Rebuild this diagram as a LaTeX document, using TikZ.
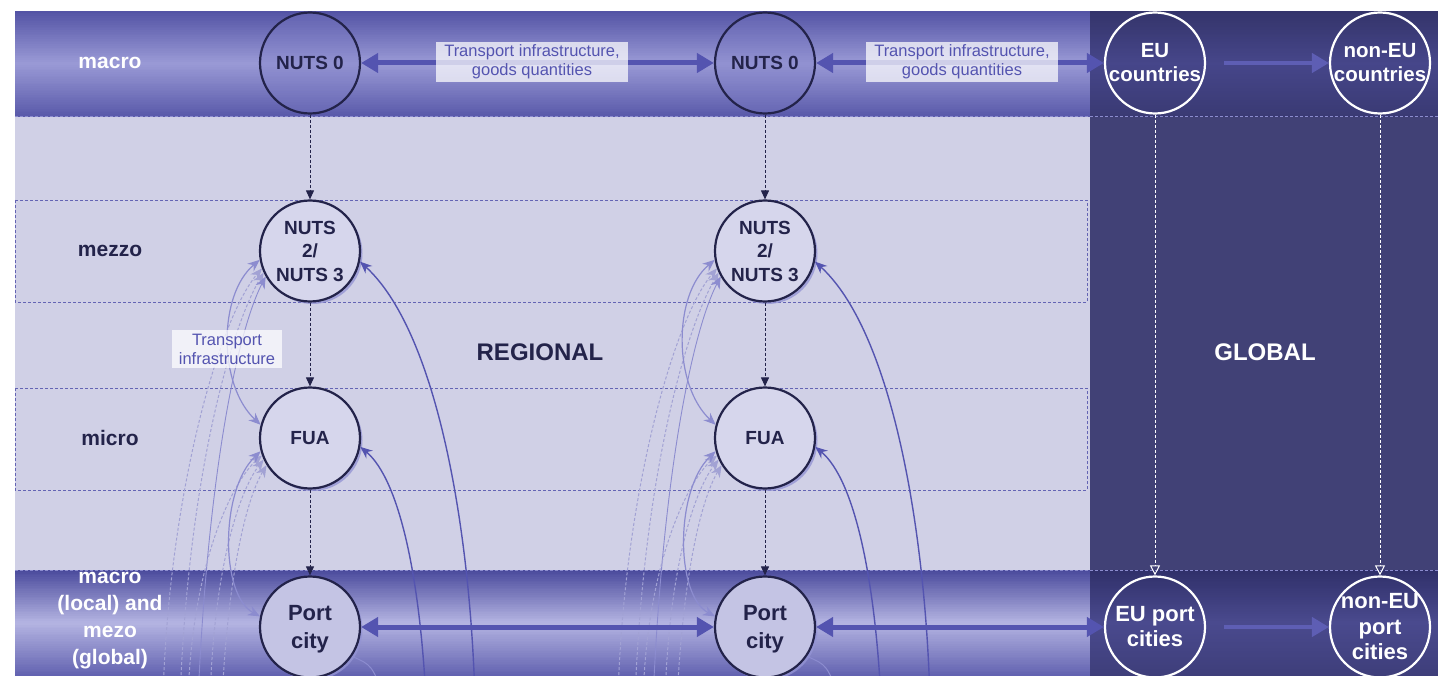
\documentclass[tikz,border=0pt]{standalone}
\usepackage{fontspec}
\setmainfont{Liberation Sans}
\usetikzlibrary{arrows.meta,shapes.geometric,shadows}
\definecolor{lav}{HTML}{D0D0E6}
\definecolor{navyG}{HTML}{414176}
\definecolor{arr}{HTML}{5454B0}
\definecolor{arrL}{HTML}{8C8CCF}
\definecolor{arrD}{HTML}{A2A2D4}
\definecolor{ink}{HTML}{23234A}
\definecolor{rowline}{HTML}{6464B4}
\definecolor{bandTop}{HTML}{5252A4}
\definecolor{bandMid}{HTML}{9A9AD6}
\definecolor{bandBot}{HTML}{5A5AAA}
\definecolor{bbTop}{HTML}{4A4A9C}
\definecolor{bbMid}{HTML}{B4B4E2}
\definecolor{bbBot}{HTML}{6262B0}
\definecolor{gTop}{HTML}{34346A}
\definecolor{gMid}{HTML}{46468A}
\definecolor{gBot}{HTML}{3A3A74}
\definecolor{gbTop}{HTML}{30306A}
\definecolor{gbMid}{HTML}{4A4A8E}
\definecolor{gbBot}{HTML}{3E3E7A}
\definecolor{topfill}{HTML}{8080C8}
\definecolor{midfill}{HTML}{D6D6EC}
\definecolor{portfill}{HTML}{C4C4E4}
\definecolor{fadearrow}{HTML}{5E5EB4}
\definecolor{shadowc}{HTML}{9494D4}
\newcommand{\ctext}[1]{\makebox[0pt]{\raisebox{-0.33em}[0pt][0pt]{\begin{tabular}[c]{@{}c@{}}#1\end{tabular}}}}
% vertical three-stop gradient drawn as thin stripes: x1,y1,x2,y2,top,mid,bottom
\newcommand{\vgrad}[7]{%
  \foreach \i in {0,...,59}{%
    \pgfmathsetmacro\ya{#2+(#4-#2)*\i/60}%
    \pgfmathsetmacro\yb{#2+(#4-#2)*(\i+1)/60+0.6}%
    \ifnum\i<30
      \pgfmathsetmacro\pp{100*(\i+0.5)/30}%
      \fill[#6!\pp!#5] (#1,\ya) rectangle (#3,\yb);
    \else
      \pgfmathsetmacro\pp{100*(59.5-\i)/30}%
      \fill[#6!\pp!#7] (#1,\ya) rectangle (#3,\yb);
    \fi
  }}
\begin{document}
\begin{tikzpicture}[x=1pt,y=-1pt,
  lvl/.style={ellipse, minimum width=100pt, minimum height=101pt, inner sep=0pt, line width=2.2pt, text=ink,
              font=\bfseries\fontsize{19}{23.5}\selectfont},
  shad/.style={drop shadow={shadow xshift=2.5pt, shadow yshift=-2.5pt, fill=shadowc, opacity=0.8}},
  topn/.style={lvl, draw=ink, fill=topfill, fill opacity=0.3, text opacity=1},
  midn/.style={lvl, shad, draw=ink, fill=midfill},
  portn/.style={lvl, shad, draw=ink, fill=portfill, font=\bfseries\fontsize{22}{28}\selectfont},
  gn/.style={lvl, draw=white, text=white, font=\bfseries\fontsize{20.5}{24.5}\selectfont},
  gpn/.style={lvl, draw=white, text=white, font=\bfseries\fontsize{22}{25.5}\selectfont},
  lbl/.style={font=\bfseries\fontsize{21}{27}\selectfont, align=center},
  big/.style={font=\bfseries\fontsize{24}{28}\selectfont},
  tbox/.style={fill=white, fill opacity=0.72, text opacity=1, text=arr, align=center,
               font=\fontsize{16.5}{19}\selectfont, inner xsep=4pt, inner ysep=2pt},
  thickarr/.style={draw=arr, line width=5pt, {Triangle[length=17pt,width=19pt]}-{Triangle[length=17pt,width=19pt]}},
  fadearr/.style={draw=fadearrow, line width=4.5pt, -{Triangle[length=17pt,width=19pt]}, shorten <=18pt},
  vdot/.style={draw=ink, line width=1pt, dash pattern=on 3pt off 2pt, -{Triangle[length=9pt,width=8pt]}},
  wdot/.style={draw=white, line width=1pt, dash pattern=on 3pt off 2pt, -{Triangle[open,length=10pt,width=10pt]}},
  rowbox/.style={draw=rowline, line width=0.8pt, dash pattern=on 3pt off 2pt},
  curveS/.style={draw=arr, line width=1.4pt},
  curveL/.style={draw=arrL, line width=1.2pt},
  curveD/.style={draw=arrD, line width=1pt, dash pattern=on 3pt off 2pt},
  tipS/.style={-{Stealth[length=12pt,width=10pt]}},
  tipB/.style={{Stealth[length=12pt,width=10pt]}-{Stealth[length=12pt,width=10pt]}}
]
\useasboundingbox (0,0) rectangle (1441,676);
\begin{scope}
\clip (15,11) rectangle (1438,676);
% ---------- backgrounds ----------
\fill[lav] (15,116) rectangle (1090,570);
\fill[navyG] (1090,116) rectangle (1438,570);
\vgrad{15}{11}{1090}{116}{bandTop}{bandMid}{bandBot}
\vgrad{1090}{11}{1438}{116}{gTop}{gMid}{gBot}
\vgrad{15}{570}{1090}{676}{bbTop}{bbMid}{bbBot}
\vgrad{1090}{570}{1438}{676}{gbTop}{gbMid}{gbBot}
\draw[rowbox, draw=arrL] (15,116) -- (1438,116);
\draw[rowbox, draw=arrL] (15,570) -- (1438,570);
\draw[rowbox] (15,200) rectangle (1087,302);
\draw[rowbox] (15,388) rectangle (1087,490);

% ---------- level labels ----------
\node[lbl, text=white] (lmacro) at (110,63) {macro};
\node[lbl, text=ink] (lmezzo) at (110,251) {mezzo};
\node[lbl, text=ink] (lmicro) at (110,438) {micro};
\node[lbl, text=white] (lport) at (110,621) {macro\\(local) and\\mezo\\(global)};
\node[big, text=ink] (regional) at (540,352) {REGIONAL};
\node[big, text=white] (global) at (1265,352) {GLOBAL};

% ---------- nodes ----------
\node[topn] (n0a) at (310,63) {\ctext{NUTS 0}};
\node[topn] (n0b) at (765,63) {\ctext{NUTS 0}};
\node[gn] (eu) at (1155,63) {\ctext{EU\\countries}};
\node[gn] (neu) at (1380,63) {\ctext{non-EU\\countries}};
\node[midn] (n2a) at (310,251) {\ctext{NUTS\\2/\\NUTS 3}};
\node[midn] (n2b) at (765,251) {\ctext{NUTS\\2/\\NUTS 3}};
\node[midn] (fa) at (310,438) {\ctext{FUA}};
\node[midn] (fb) at (765,438) {\ctext{FUA}};
\node[portn] (pa) at (310,627) {\ctext{Port\\city}};
\node[portn] (pb) at (765,627) {\ctext{Port\\city}};
\node[gpn] (eup) at (1155,627) {\ctext{EU port\\cities}};
\node[gpn] (neup) at (1380,627) {\ctext{non-EU\\port\\cities}};

% ---------- curved connectors ----------
\foreach \c/\k in {310/a,765/b}{
  \coordinate (bA\k) at (\c+165,700);
  \coordinate (bB\k) at (\c+116,700);
  \coordinate (bP\k) at (\c+75,700);
  \coordinate (bE1\k) at (\c-147,700);
  \coordinate (bE2\k) at (\c-130,700);
  \coordinate (bE3\k) at (\c-112,700);
  \coordinate (bG1\k) at (\c-122,700);
  \coordinate (bG2\k) at (\c-100,700);
  \coordinate (bG3\k) at (\c-88,700);
  % dashed faint fans
  \draw[curveD, tipS] (bE1\k) .. controls (\c-142,500) and (\c-92,320) .. (n2\k.200);
  \draw[curveD, tipS] (bE2\k) .. controls (\c-122,480) and (\c-80,330) .. (n2\k.205);
  \draw[curveL, line width=0.9pt, tipS] (bE3\k) .. controls (\c-102,470) and (\c-72,330) .. (n2\k.210);
  \draw[curveD, tipS] (bG1\k) .. controls (\c-118,560) and (\c-76,480) .. (f\k.200);
  \draw[curveD, tipS] (bG2\k) .. controls (\c-96,565) and (\c-70,490) .. (f\k.205);
  \draw[curveD, tipS] (bG3\k) .. controls (\c-82,575) and (\c-64,500) .. (f\k.212);
  % light solid double arrows on the left
  \draw[curveL, tipB] (n2\k.190) .. controls (\c-92,295) and (\c-92,385) .. (f\k.165);
  \draw[curveL, tipB] (f\k.195) .. controls (\c-90,490) and (\c-90,595) .. (p\k.168);
  % solid arrows on the right
  \draw[curveS, tipS] (bA\k) .. controls (\c+160,520) and (\c+125,330) .. (n2\k.-12);
  \draw[curveS, tipS] (bB\k) .. controls (\c+110,580) and (\c+90,480) .. (f\k.-10);
  \draw[curveL, line width=1pt] (p\k.-35) .. controls (\c+62,665) .. (bP\k);
}

% ---------- vertical dotted arrows ----------
\draw[vdot] (n0a) -- (n2a);
\draw[vdot] (n2a) -- (fa);
\draw[vdot] (fa) -- (pa);
\draw[vdot] (n0b) -- (n2b);
\draw[vdot] (n2b) -- (fb);
\draw[vdot] (fb) -- (pb);
\draw[wdot] (eu) -- (eup);
\draw[wdot] (neu) -- (neup);

% ---------- horizontal arrows ----------
\draw[thickarr] (n0a) -- (n0b);
\draw[thickarr] (n0b) -- (eu);
\draw[fadearr] (eu) -- (neu);
\draw[thickarr] (pa) -- (pb);
\draw[thickarr] (pb) -- (eup);
\draw[fadearr] (eup) -- (neup);

% ---------- text boxes ----------
\node[tbox, minimum width=192pt, minimum height=40pt] (t1) at (532,62) {Transport infrastructure,\\goods quantities};
\node[tbox, minimum width=192pt, minimum height=40pt] (t2) at (962,62) {Transport infrastructure,\\goods quantities};
\node[tbox, minimum width=110pt, minimum height=38pt] (t3) at (227,349) {Transport\\infrastructure};
\end{scope}
\end{tikzpicture}
\end{document}
